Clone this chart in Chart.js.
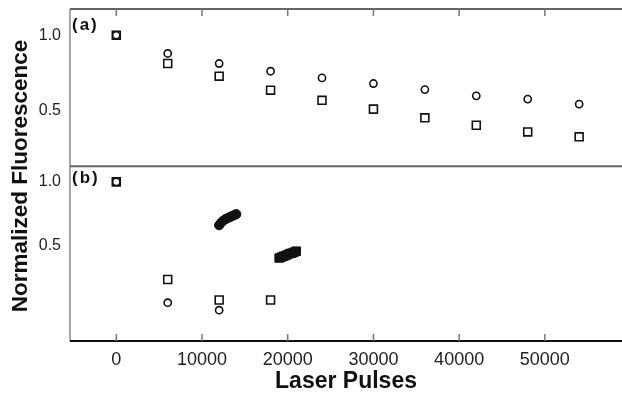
<!DOCTYPE html>
<html>
<head>
<meta charset="utf-8">
<script src="https://cdn.jsdelivr.net/npm/chart.js@4.4.1/dist/chart.umd.min.js"></script>
<style>
  html, body { margin: 0; padding: 0; background: #fff; }
  #wrap { width: 622px; height: 400px; }
</style>
</head>
<body>
<div id="wrap"><canvas id="myChart" width="622" height="400"></canvas></div>
<script>
// laser pulses at which the open symbols were measured
const pulses = [0, 6000, 12000, 18000, 24000, 30000, 36000, 42000, 48000, 54000];

// panel (a)
const circlesA = [1.0, 0.845, 0.77, 0.717, 0.674, 0.64, 0.605, 0.571, 0.554, 0.529];
const squaresA = [1.0, 0.77, 0.685, 0.602, 0.548, 0.505, 0.466, 0.435, 0.409, 0.391];

// panel (b)
const pulsesCircB = [0, 6000, 12000];
const circlesB = [1.0, 0.266, 0.245];
const pulsesSqB = [0, 6000, 12000, 18000];
const squaresB = [1.0, 0.343, 0.274, 0.274];

const pulsesFilledCirc = [12000, 12250, 12500, 12750, 13000, 13250, 13500, 13750, 14000];
const filledCircles = [0.622, 0.64, 0.654, 0.665, 0.672, 0.68, 0.687, 0.695, 0.702];
const pulsesFilledSq = [19000, 19250, 19500, 19750, 20000, 20250, 20500, 20750, 21000];
const filledSquares = [0.434, 0.438, 0.443, 0.446, 0.451, 0.456, 0.458, 0.463, 0.468];

// axis ticks
const xTicks = [0, 10000, 20000, 30000, 40000, 50000];
const yTicks = [0.5, 1.0];

function points(xs, ys) {
  return xs.map((x, i) => ({ x: x, y: ys[i] }));
}

const ink = "#111";

// keep the plot box fixed, labels may hang over the edges
function noPadding(s) {
  s.paddingTop = 0;
  s.paddingBottom = 0;
  s.paddingLeft = 0;
  s.paddingRight = 0;
}

function openSet(xs, ys, shape, axis) {
  return {
    data: points(xs, ys),
    yAxisID: axis,
    pointStyle: shape,
    pointRadius: shape == "rect" ? 5.6 : 3.6,
    pointBorderWidth: 1.6,
    pointBorderColor: ink,
    pointBackgroundColor: "rgba(0,0,0,0)",
    showLine: false,
  };
}

function filledSet(xs, ys, shape) {
  return {
    data: points(xs, ys),
    yAxisID: "yb",
    pointStyle: shape,
    pointRadius: shape == "rect" ? 6 : 4.6,
    pointBorderWidth: 1,
    pointBorderColor: ink,
    pointBackgroundColor: ink,
    showLine: false,
  };
}

function logAxis(min, max, weight) {
  return {
    type: "logarithmic",
    axis: "y",
    position: "left",
    stack: "panels",
    stackWeight: weight,
    offset: false,
    min: min,
    max: max,
    afterBuildTicks: (s) => {
      s.ticks = yTicks.map((v) => ({ value: v }));
    },
    afterFit: (s) => {
      s.width = 70;
      noPadding(s);
    },
    grid: { display: false, drawTicks: false },
    border: { display: false },
    ticks: {
      padding: 9,
      color: "#222",
      font: { family: "'Liberation Sans', Arial, sans-serif", size: 16 },
      callback: (v) => Number(v).toFixed(1),
    },
  };
}

// frame, inward ticks, panel letters and y title
const framePlugin = {
  id: "frame",
  afterDraw(chart) {
    const c = chart.ctx;
    const a = chart.chartArea;
    const x = chart.scales.x;
    const mid = chart.scales.ya.bottom;
    const right = chart.width;
    c.save();

    c.strokeStyle = "#888";
    c.lineWidth = 1.5;
    c.beginPath();
    c.moveTo(a.left, a.top);
    c.lineTo(a.left, a.bottom);
    c.stroke();

    c.strokeStyle = "#666";
    c.lineWidth = 2;
    c.beginPath();
    c.moveTo(a.left, a.top);
    c.lineTo(right, a.top);
    c.moveTo(a.left, mid);
    c.lineTo(right, mid);
    c.stroke();

    c.strokeStyle = ink;
    c.beginPath();
    c.moveTo(a.left, a.bottom);
    c.lineTo(right, a.bottom);
    c.stroke();

    c.strokeStyle = "#777";
    c.lineWidth = 1.5;
    c.beginPath();
    xTicks.forEach((v) => {
      const px = x.getPixelForValue(v);
      c.moveTo(px, a.top);
      c.lineTo(px, a.top + 7);
      c.moveTo(px, a.bottom);
      c.lineTo(px, a.bottom - 7);
    });
    c.stroke();

    c.fillStyle = ink;
    c.font = "bold 17px 'Liberation Sans', Arial, sans-serif";
    c.letterSpacing = "2px";
    c.textBaseline = "middle";
    c.textAlign = "left";
    c.fillText("(a)", a.left + 2, a.top + 16);
    c.fillText("(b)", a.left + 2, mid + 12);
    c.letterSpacing = "0px";

    c.translate(21, (a.top + a.bottom) / 2 + 1);
    c.rotate(-Math.PI / 2);
    c.textAlign = "center";
    c.font = "bold 22.5px 'Liberation Sans', Arial, sans-serif";
    c.fillText("Normalized Fluorescence", 0, 0);
    c.restore();
  },
};

let ctx = document.getElementById("myChart").getContext("2d");
let myChart = new Chart(ctx, {
  type: "scatter",
  data: {
    datasets: [
      openSet(pulses, circlesA, "circle", "ya"),
      openSet(pulses, squaresA, "rect", "ya"),
      openSet(pulsesCircB, circlesB, "circle", "yb"),
      openSet(pulsesSqB, squaresB, "rect", "yb"),
      filledSet(pulsesFilledCirc, filledCircles, "circle"),
      filledSet(pulsesFilledSq, filledSquares, "rect"),
    ],
  },
  options: {
    responsive: false,
    animation: false,
    layout: { autoPadding: false, padding: { top: 9, right: 0, bottom: 0, left: 0 } },
    plugins: { legend: { display: false }, tooltip: { enabled: false } },
    scales: {
      x: {
        type: "linear",
        min: -5400,
        max: 59000,
        afterBuildTicks: (s) => {
          s.ticks = xTicks.map((v) => ({ value: v }));
        },
        afterFit: (s) => {
          s.height = 59;
          noPadding(s);
        },
        grid: { display: false, drawTicks: false },
        border: { display: false },
        ticks: {
          padding: 8,
          maxRotation: 0,
          color: "#222",
          font: { family: "'Liberation Sans', Arial, sans-serif", size: 18 },
          callback: (v) => String(v),
        },
        title: {
          display: true,
          text: "Laser Pulses",
          color: ink,
          padding: { top: 2, bottom: 5 },
          font: { family: "'Liberation Sans', Arial, sans-serif", size: 23, weight: "bold" },
        },
      },
      yb: logAxis(0.1748, 1.188, 175),
      ya: logAxis(0.298, 1.275, 157.3),
    },
  },
  plugins: [framePlugin],
});
</script>
</body>
</html>
